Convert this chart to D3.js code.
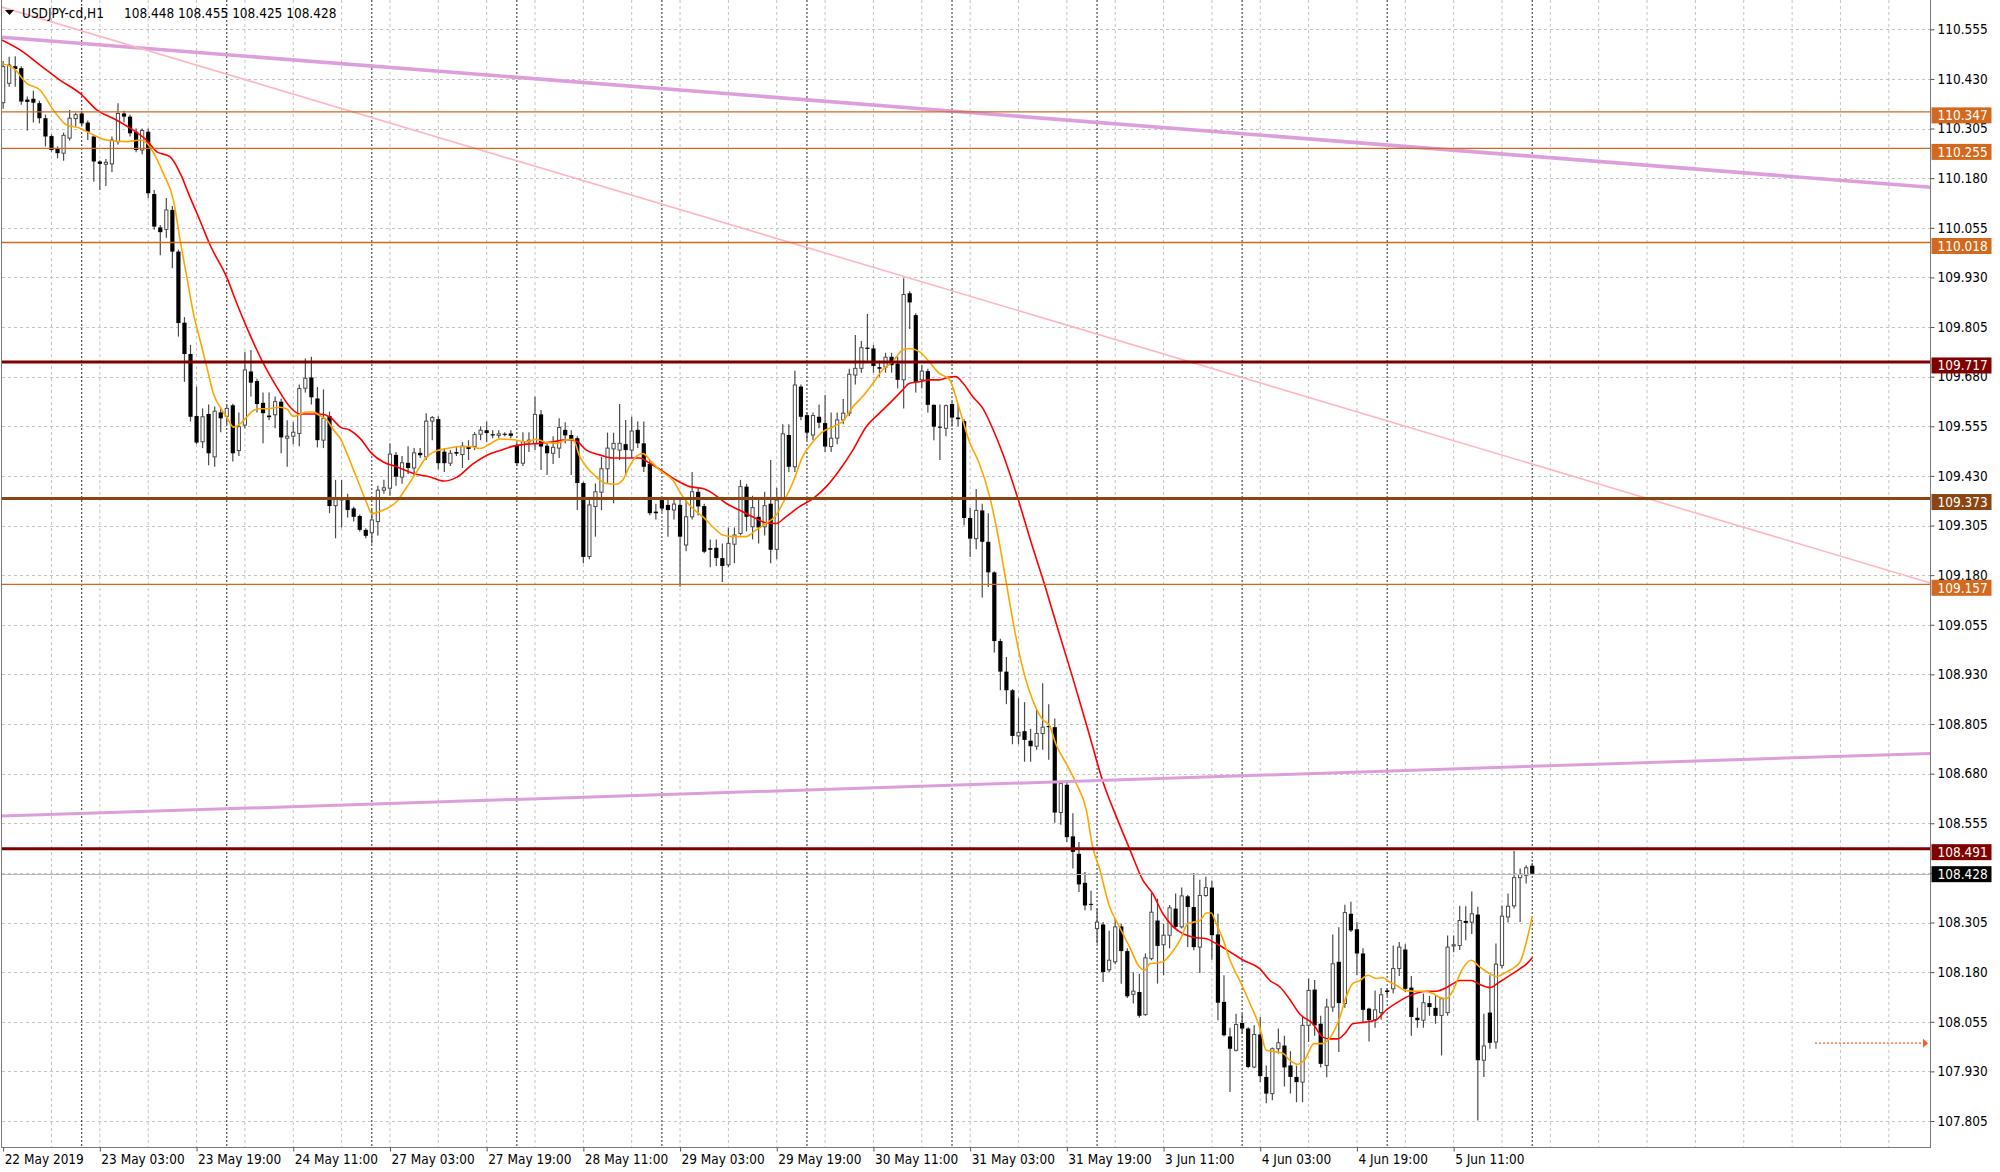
<!DOCTYPE html>
<html><head><meta charset="utf-8">
<script src="https://cdn.jsdelivr.net/npm/d3@7"></script>
<style>
html,body{margin:0;padding:0;background:#fff;}
svg{display:block;}
text{font-family:"DejaVu Sans Condensed","DejaVu Sans",sans-serif;}
</style></head><body>
<svg id="chart" width="2000" height="1172"></svg>
<script>
// ---------------- DATA ----------------
const symbolTitle = "USDJPY-cd,H1";
const titleValues = ["108.448", "108.455", "108.425", "108.428"];
const firstBar = -13; // bar index of first candle (0 = 23 May 00:00, hourly bars)
const opens = [110.370,110.419,110.462,110.457,110.378,110.380,110.369,110.331,110.286,110.254,110.243,110.281,110.330,
110.343,110.320,110.285,110.222,110.215,110.216,110.272,110.343,110.335,110.297,110.251,110.297,110.140,110.056,110.051,110.100,109.995,109.816,109.737,109.581,109.516,109.586,109.478,109.590,
109.580,109.608,109.494,109.558,109.693,109.669,109.614,109.582,109.584,109.617,109.525,109.530,109.537,109.651,109.678,109.625,109.520,109.581,109.355,109.370,109.369,109.348,109.329,109.294,
109.287,109.315,109.394,109.399,109.483,109.427,109.463,109.450,109.488,109.478,109.568,109.573,109.491,109.462,109.490,109.484,109.505,109.504,109.535,109.545,109.535,109.532,109.536,109.537,
109.508,109.462,109.516,109.512,109.585,109.506,109.487,109.500,109.546,109.533,109.525,109.412,109.227,109.353,109.389,109.448,109.498,109.495,109.510,109.495,109.546,109.512,109.460,109.340,
109.369,109.357,109.344,109.357,109.256,109.327,109.390,109.354,109.248,109.249,109.223,109.206,109.258,109.285,109.403,109.302,109.327,109.302,109.360,109.245,109.374,109.533,109.453,109.655,
109.583,109.533,109.579,109.563,109.504,109.525,109.571,109.588,109.684,109.701,109.753,109.751,109.704,109.704,109.730,109.713,109.672,109.890,109.835,109.672,109.694,109.609,109.554,109.550,
109.611,109.577,109.568,109.324,109.272,109.343,109.264,109.187,109.014,108.937,108.890,108.775,108.787,108.763,108.749,108.781,108.800,108.797,108.582,108.652,108.522,108.478,108.405,108.352,
108.290,108.300,108.186,108.206,108.295,108.233,108.124,108.130,108.073,108.214,108.310,108.249,108.273,108.340,108.294,108.371,108.344,108.243,108.373,108.393,108.275,108.105,108.018,107.983,
108.052,108.038,107.941,108.023,107.916,107.874,107.987,107.995,107.945,107.916,107.903,108.046,108.136,108.050,107.945,108.092,108.206,108.101,108.327,108.288,108.227,108.088,108.060,108.078,
108.134,108.138,108.189,108.237,108.141,108.065,108.059,108.102,108.090,108.071,108.078,108.246,108.247,108.309,108.306,108.325,107.958,108.078,108.004,108.197,108.319,108.347,108.418,108.424,
108.448];
const highs = [110.475,110.486,110.487,110.462,110.386,110.400,110.375,110.340,110.290,110.260,110.295,110.352,110.345,
110.350,110.325,110.290,110.225,110.228,110.285,110.369,110.350,110.340,110.305,110.305,110.305,110.150,110.062,110.130,110.110,110.000,109.830,109.760,109.655,109.600,109.610,109.605,109.603,
109.610,109.612,109.590,109.743,109.747,109.675,109.640,109.640,109.630,109.625,109.570,109.565,109.660,109.726,109.730,109.654,109.648,109.592,109.420,109.420,109.385,109.352,109.333,109.298,
109.345,109.405,109.420,109.512,109.490,109.480,109.505,109.500,109.500,109.588,109.581,109.580,109.500,109.495,109.505,109.515,109.520,109.540,109.555,109.567,109.545,109.545,109.540,109.545,
109.515,109.540,109.540,109.630,109.596,109.512,109.530,109.575,109.565,109.545,109.530,109.415,109.370,109.411,109.478,109.539,109.539,109.611,109.571,109.579,109.567,109.567,109.470,109.360,
109.375,109.374,109.374,109.370,109.370,109.440,109.400,109.360,109.270,109.270,109.260,109.300,109.300,109.420,109.410,109.380,109.370,109.390,109.470,109.400,109.560,109.560,109.695,109.660,
109.590,109.590,109.610,109.634,109.590,109.590,109.624,109.700,109.785,109.770,109.838,109.760,109.720,109.740,109.740,109.730,109.928,109.895,109.840,109.710,109.700,109.610,109.610,109.610,
109.616,109.611,109.573,109.350,109.397,109.360,109.336,109.190,109.020,108.974,108.893,108.870,108.860,108.793,108.840,108.908,108.855,108.819,108.662,108.662,108.580,108.508,108.432,108.385,
108.340,108.306,108.285,108.315,108.302,108.240,108.180,108.176,108.227,108.379,108.365,108.302,108.349,108.378,108.393,108.374,108.430,108.413,108.420,108.411,108.327,108.172,108.040,108.075,
108.075,108.041,108.046,108.067,107.945,107.990,108.038,108.020,107.981,107.945,108.067,108.164,108.160,108.070,108.113,108.275,108.293,108.350,108.357,108.306,108.240,108.090,108.134,108.140,
108.140,108.247,108.256,108.250,108.170,108.090,108.126,108.120,108.120,108.117,108.272,108.272,108.347,108.346,108.383,108.345,108.075,108.172,108.252,108.348,108.378,108.485,108.441,108.449,
108.455];
const lows = [110.355,110.410,110.410,110.365,110.300,110.320,110.318,110.260,110.247,110.230,110.224,110.275,110.310,
110.310,110.276,110.171,110.150,110.160,110.195,110.265,110.320,110.285,110.245,110.240,110.130,110.050,109.986,110.030,109.953,109.781,109.667,109.567,109.510,109.500,109.457,109.453,109.540,
109.560,109.466,109.480,109.550,109.630,109.590,109.512,109.570,109.550,109.487,109.453,109.510,109.505,109.640,109.610,109.502,109.500,109.336,109.273,109.300,109.325,109.315,109.290,109.273,
109.260,109.280,109.385,109.380,109.405,109.410,109.435,109.430,109.475,109.470,109.520,109.447,109.440,109.455,109.480,109.450,109.470,109.495,109.520,109.515,109.525,109.525,109.530,109.525,
109.455,109.455,109.490,109.495,109.445,109.432,109.460,109.475,109.512,109.432,109.344,109.210,109.220,109.277,109.344,109.410,109.361,109.470,109.430,109.475,109.500,109.440,109.331,109.320,
109.340,109.277,109.320,109.151,109.240,109.320,109.330,109.235,109.200,109.203,109.163,109.200,109.210,109.280,109.290,109.270,109.260,109.280,109.210,109.220,109.370,109.440,109.440,109.570,
109.520,109.520,109.550,109.490,109.490,109.510,109.560,109.580,109.660,109.690,109.720,109.690,109.680,109.690,109.690,109.650,109.600,109.800,109.640,109.650,109.590,109.520,109.470,109.530,
109.555,109.555,109.305,109.226,109.245,109.124,109.150,108.985,108.890,108.855,108.754,108.754,108.710,108.710,108.740,108.740,108.715,108.556,108.551,108.508,108.441,108.382,108.336,108.335,
108.252,108.155,108.180,108.200,108.151,108.115,108.101,108.065,108.070,108.210,108.151,108.172,108.240,108.290,108.290,108.243,108.235,108.178,108.370,108.211,108.059,108.018,107.878,107.980,
108.025,107.938,107.938,107.903,107.850,107.857,107.975,107.892,107.874,107.852,107.852,108.004,108.020,107.940,107.915,108.080,107.979,108.090,108.281,108.172,108.054,108.005,108.040,108.060,
108.120,108.126,108.170,108.130,108.020,108.040,108.040,108.070,108.050,107.970,108.070,108.230,108.236,108.260,108.276,107.806,107.916,107.987,107.987,108.190,108.305,108.340,108.306,108.403,
108.425];
const closes = [110.461,110.465,110.455,110.373,110.372,110.370,110.331,110.285,110.251,110.243,110.288,110.331,110.340,
110.318,110.297,110.222,110.216,110.220,110.276,110.343,110.335,110.293,110.251,110.300,110.142,110.058,110.044,110.100,109.995,109.815,109.737,109.579,109.514,109.579,109.487,109.593,109.575,
109.600,109.487,109.554,109.697,109.665,109.611,109.588,109.578,109.617,109.527,109.530,109.540,109.650,109.676,109.628,109.520,109.575,109.354,109.373,109.372,109.344,109.327,109.294,109.279,
109.319,109.394,109.400,109.485,109.428,109.463,109.450,109.488,109.482,109.568,109.577,109.462,109.462,109.487,109.486,109.505,109.498,109.534,109.545,109.538,109.532,109.536,109.535,109.531,
109.462,109.516,109.520,109.585,109.504,109.487,109.502,109.552,109.532,109.522,109.412,109.226,109.357,109.390,109.448,109.500,109.512,109.512,109.495,109.543,109.512,109.453,109.336,109.336,
109.348,109.344,109.359,109.277,109.327,109.390,109.353,109.239,109.244,109.223,109.203,109.260,109.281,109.403,109.327,109.350,109.300,109.355,109.244,109.369,109.536,109.453,109.659,109.579,
109.539,109.582,109.564,109.504,109.525,109.571,109.588,109.686,109.701,109.753,109.750,109.707,109.700,109.729,109.709,109.672,109.887,109.867,109.667,109.694,109.609,109.554,109.552,109.607,
109.577,109.573,109.324,109.272,109.343,109.264,109.187,109.014,108.937,108.890,108.775,108.784,108.765,108.749,108.781,108.797,108.797,108.582,108.655,108.520,108.483,108.401,108.348,108.350,
108.306,108.180,108.210,108.294,108.233,108.119,108.132,108.070,108.216,108.331,108.246,108.273,108.342,108.294,108.372,108.344,108.243,108.373,108.393,108.273,108.103,108.021,107.987,108.048,
108.038,107.941,108.023,107.918,107.874,107.987,108.002,107.940,107.916,107.903,108.046,108.134,108.046,107.949,108.092,108.201,108.102,108.330,108.285,108.227,108.085,108.059,108.085,108.123,
108.130,108.189,108.243,108.138,108.067,108.059,108.103,108.092,108.070,108.113,108.243,108.249,108.310,108.304,108.327,107.958,107.994,108.002,108.200,108.321,108.346,108.418,108.426,108.443,
108.428];

// Moving averages: [bar index, price]
const maFast = [[-13.5,110.469],[-11.3,110.457],[-9.1,110.419],[-6.9,110.402],[-4.7,110.352],[-2.5,110.314],[-0.3,110.306],[1.9,110.289],[4.1,110.276],[7.5,110.272],[9.7,110.276],[10.8,110.268],[11.9,110.243],[13.5,110.192],[15.2,110.123],[16.3,110.022],[17.4,109.930],[18.5,109.838],[19.6,109.771],[20.7,109.704],[21.8,109.637],[22.9,109.603],[24,109.578],[25.1,109.553],[26.2,109.561],[27.3,109.578],[28.4,109.595],[29.5,109.599],[30.6,109.599],[32.8,109.603],[33.9,109.599],[35,109.580],[37.2,109.591],[38.3,109.591],[39.4,109.582],[40.6,109.570],[41.7,109.545],[42.8,109.524],[43.9,109.486],[45,109.444],[46.1,109.402],[47.2,109.360],[48,109.335],[49.9,109.344],[52.1,109.365],[53.8,109.402],[55.4,109.440],[57.1,109.478],[58.2,109.490],[60.4,109.499],[62.6,109.504],[64.3,109.504],[65.9,109.499],[67.6,109.511],[69.2,109.523],[71.4,109.521],[73.6,109.516],[75.2,109.522],[76.9,109.514],[78.5,109.512],[80.2,109.521],[81.3,109.522],[82.4,109.479],[83.5,109.453],[85.1,109.428],[86.8,109.411],[88.4,109.409],[89.5,109.419],[90.6,109.453],[91.8,109.480],[92.9,109.486],[94,109.470],[95.6,109.445],[97.8,109.419],[99.5,109.377],[101.1,109.348],[102.8,109.327],[104.4,109.302],[106.1,109.281],[107.7,109.277],[109.9,109.277],[111.6,109.294],[113.2,109.310],[114.9,109.331],[116,109.361],[117.6,109.411],[119.3,109.479],[121,109.516],[122.6,109.541],[124.3,109.554],[125.9,109.567],[127.6,109.604],[129.2,109.630],[130.9,109.663],[132.5,109.697],[134.2,109.718],[135.8,109.747],[136.9,109.751],[138.6,109.743],[140.2,109.718],[141.9,109.688],[143.5,109.675],[145.2,109.600],[146.9,109.515],[148.5,109.462],[150.2,109.380],[151.8,109.264],[152.9,109.168],[154,109.071],[155.1,108.985],[156.8,108.888],[157.9,108.845],[159,108.816],[160.1,108.802],[161.2,108.754],[162.9,108.705],[164.5,108.657],[166.2,108.590],[167.3,108.493],[168.4,108.441],[170,108.348],[171.7,108.294],[173.4,108.243],[175,108.193],[175.9,108.185],[176.7,108.201],[177.8,108.203],[178.9,108.206],[180,108.222],[181.7,108.260],[183,108.302],[185,108.310],[186.1,108.329],[186.9,108.329],[187.7,108.302],[188.9,108.260],[190,108.210],[191.6,108.159],[193.3,108.101],[194.9,108.042],[196,107.983],[197.7,107.979],[198.8,107.975],[199.9,107.958],[201.2,107.948],[202.3,107.958],[203.9,108.000],[205.3,108.000],[206.4,108.012],[208.1,108.063],[209.2,108.117],[210.3,108.151],[211.4,108.158],[212.8,108.172],[214.2,108.164],[215.3,108.166],[216.4,108.155],[217.5,108.147],[218.9,108.134],[220.3,108.132],[221.9,108.132],[223.6,108.126],[224.7,108.116],[225.8,108.113],[226.9,108.134],[228.3,108.184],[229.9,108.210],[231.3,108.193],[233,108.176],[234.1,108.169],[235.7,108.180],[238,108.206],[239.1,108.260],[240,108.320]];
const maSlow = [[-13.5,110.530],[-10.2,110.503],[-6.9,110.465],[-3.6,110.427],[-0.3,110.394],[2.5,110.352],[5.8,110.326],[8.0,110.306],[10.7,110.276],[12.4,110.247],[14.6,110.234],[16.3,110.192],[17.9,110.133],[19.6,110.072],[21.2,110.013],[24,109.930],[25.7,109.863],[27.3,109.804],[30.1,109.712],[32.3,109.653],[34.5,109.603],[36.1,109.586],[38.3,109.586],[39.4,109.586],[41.1,109.578],[42.8,109.553],[44.4,109.545],[46.1,109.524],[48,109.486],[49.9,109.465],[52.1,109.453],[54.9,109.436],[57.7,109.427],[59.9,109.417],[62.1,109.427],[64.8,109.461],[67.6,109.486],[69.2,109.494],[71.4,109.505],[73.6,109.510],[75.8,109.512],[78,109.516],[80.2,109.521],[81.8,109.518],[83.5,109.495],[85.7,109.483],[87.9,109.475],[90.1,109.475],[92.3,109.475],[94,109.462],[96.2,109.441],[98.4,109.419],[100.6,109.403],[102.8,109.398],[104.4,109.386],[106.6,109.361],[108.8,109.344],[111,109.327],[113.2,109.312],[114.9,109.310],[116.5,109.327],[118.7,109.352],[121,109.373],[123.2,109.403],[125.4,109.445],[127.6,109.495],[129.8,109.554],[132,109.588],[134.2,109.621],[135.8,109.646],[136.9,109.663],[138.6,109.667],[140.2,109.672],[141.9,109.672],[143.5,109.679],[144.6,109.680],[145.8,109.664],[147.4,109.630],[149.1,109.600],[150.7,109.550],[152.4,109.486],[154.9,109.373],[157.1,109.262],[159.3,109.157],[161.5,109.045],[164,108.920],[166.5,108.790],[168.9,108.663],[171.2,108.571],[173.4,108.490],[175.6,108.411],[177.2,108.378],[178.9,108.327],[180.6,108.294],[182.2,108.277],[183.9,108.268],[186.1,108.264],[187.7,108.252],[190,108.231],[192.2,108.210],[194.9,108.189],[196.6,108.159],[198.3,108.142],[199.9,108.111],[201.5,108.075],[203.7,108.050],[205.3,108.017],[206.4,108.012],[207.8,108.012],[209.2,108.029],[210.3,108.050],[212.5,108.054],[214.2,108.060],[215.8,108.084],[217.5,108.102],[219.2,108.117],[220.8,108.127],[222.5,108.132],[224.1,108.132],[225.8,108.141],[226.9,108.151],[228,108.159],[229.9,108.159],[231.3,108.149],[233,108.141],[234.6,108.155],[236.3,108.172],[238,108.189],[239.1,108.201],[240,108.216]];

const yTicks = [107.805,107.930,108.055,108.180,108.305,108.430,108.555,108.680,108.805,108.930,109.055,109.180,109.305,109.430,109.555,109.680,109.805,109.930,110.055,110.180,110.305,110.430,110.555];
const xTickBars = [-13,3,19,35,51,67,83,99,115,131,147,163,179,195,211,227];
const xTickLabels = ["22 May 2019","23 May 03:00","23 May 19:00","24 May 11:00","27 May 03:00","27 May 19:00","28 May 11:00","29 May 03:00","29 May 19:00","30 May 11:00","31 May 03:00","31 May 19:00","3 Jun 11:00","4 Jun 03:00","4 Jun 19:00","5 Jun 11:00"];
const daySeparatorBars = [0,24,48,72,96,120,144,168,192,216,240];

const levelPrices = [110.347, 110.255, 110.018, 109.717, 109.373, 109.157, 108.491];
const levelKinds  = ["minor","minor","minor","major","mid","minor","major"];
const bidPrice = 108.428;
// trend lines: [barA, priceA, barB, priceB]
const trendUpperViolet = [-13.19, 110.535, 305.9, 110.157];
const trendPink        = [-13.19, 110.611, 305.9, 109.160];
const trendLowerViolet = [-13.19, 108.573, 305.9, 108.731];
const arrowLevel = [286.8, 305.5, 108.001];

// ---------------- STYLES ----------------
const levelStyle = {
  minor: {color:"#D2691E", width:1.3},
  major: {color:"#800000", width:3},
  mid:   {color:"#8B4513", width:3}
};
const W = 2000, H = 1172;
const plotL = 2, plotR = 1930.5, plotT = 0, plotB = 1147.5;
const FONT = 13.5;

// ---------------- SCALES ----------------
const x = d3.scaleLinear().domain([-13.19, 305.9]).range([plotL, plotR]);
const y = d3.scaleLinear().domain([107.805, 110.555]).range([1121.0, 29.3]);

const svg = d3.select("#chart");
svg.append("rect").attr("width", W).attr("height", H).attr("fill", "#fff");
svg.append("defs").append("clipPath").attr("id", "plotclip")
  .append("rect").attr("x", plotL).attr("y", plotT).attr("width", plotR - plotL).attr("height", plotB - plotT);

const plot = svg.append("g").attr("clip-path", "url(#plotclip)");

// grid
const grid = plot.append("g");
grid.selectAll("line.hg").data(yTicks).join("line")
  .attr("x1", plotL).attr("x2", plotR)
  .attr("y1", d => Math.round(y(d)) + 0.5).attr("y2", d => Math.round(y(d)) + 0.5)
  .attr("stroke", "#c4c4c4").attr("stroke-width", 1).attr("stroke-dasharray", "3,3");
const vGridBars = d3.range(-5, 306, 8);
grid.selectAll("line.vg").data(vGridBars).join("line")
  .attr("x1", d => x(d)).attr("x2", d => x(d))
  .attr("y1", plotT).attr("y2", plotB)
  .attr("stroke", "#c4c4c4").attr("stroke-width", 1).attr("stroke-dasharray", "3,3");
grid.selectAll("line.sep").data(daySeparatorBars).join("line")
  .attr("x1", d => x(d)).attr("x2", d => x(d))
  .attr("y1", plotT).attr("y2", plotB)
  .attr("stroke", "#2a2a2a").attr("stroke-width", 1).attr("stroke-dasharray", "2,2");

// candles
const bars = opens.map((o, k) => ({i: firstBar + k, o, h: highs[k], l: lows[k], c: closes[k]}));
const cg = plot.append("g");
cg.selectAll("line.wick").data(bars).join("line")
  .attr("x1", d => x(d.i)).attr("x2", d => x(d.i))
  .attr("y1", d => y(d.h)).attr("y2", d => y(d.l))
  .attr("stroke", "#4a4a4a").attr("stroke-width", 1.2);
cg.selectAll("rect.body").data(bars).join("rect")
  .attr("x", d => d.c >= d.o ? x(d.i) - 1.6 : x(d.i) - 2.1)
  .attr("width", d => d.c >= d.o ? 3.2 : 4.2)
  .attr("y", d => y(Math.max(d.o, d.c)))
  .attr("height", d => Math.max(1, Math.abs(y(d.o) - y(d.c))))
  .attr("fill", d => d.c >= d.o ? "#fff" : "#000")
  .attr("stroke", d => d.c >= d.o ? "#4a4a4a" : "none")
  .attr("stroke-width", 1);

// moving averages
const maLine = d3.line().x(d => x(d[0])).y(d => y(d[1])).curve(d3.curveMonotoneX);
plot.append("path").datum(maSlow).attr("d", maLine).attr("fill", "none").attr("stroke", "#ff0000").attr("stroke-width", 1.6);
plot.append("path").datum(maFast).attr("d", maLine).attr("fill", "none").attr("stroke", "#ffa500").attr("stroke-width", 1.6);

// objects
const obj = plot.append("g");
function trend(t, color, width) {
  obj.append("line").attr("x1", x(t[0])).attr("y1", y(t[1])).attr("x2", x(t[2])).attr("y2", y(t[3]))
    .attr("stroke", color).attr("stroke-width", width);
}
trend(trendUpperViolet, "#dc9fdc", 3.6);
trend(trendPink, "#ffb6c1", 1.6);
trend(trendLowerViolet, "#dc9fdc", 3);
obj.append("line").attr("x1", plotL).attr("x2", plotR)
  .attr("y1", Math.round(y(bidPrice)) + 0.5).attr("y2", Math.round(y(bidPrice)) + 0.5)
  .attr("stroke", "#b8b8b8").attr("stroke-width", 1);
levelPrices.forEach((p, k) => {
  const s = levelStyle[levelKinds[k]];
  obj.append("line").attr("x1", plotL).attr("x2", plotR).attr("y1", y(p)).attr("y2", y(p))
    .attr("stroke", s.color).attr("stroke-width", s.width);
});
// arrow
obj.append("line").attr("x1", x(arrowLevel[0])).attr("x2", x(arrowLevel[1]) - 4)
  .attr("y1", y(arrowLevel[2])).attr("y2", y(arrowLevel[2]))
  .attr("stroke", "#ff5a1e").attr("stroke-width", 1.2).attr("stroke-dasharray", "2,2");
{
  const ax = x(arrowLevel[1]), ay = y(arrowLevel[2]);
  obj.append("path").attr("d", `M${ax-5},${ay-4.5} L${ax},${ay} L${ax-5},${ay+4.5} Z`).attr("fill", "#ff5a1e");
}

// frame
svg.append("line").attr("x1", plotL - 0.5).attr("x2", plotL - 0.5).attr("y1", plotT).attr("y2", plotB).attr("stroke", "#7a7a7a");
svg.append("line").attr("x1", plotR).attr("x2", plotR).attr("y1", plotT).attr("y2", plotB).attr("stroke", "#7a7a7a");
svg.append("line").attr("x1", plotL - 1).attr("x2", plotR + 0.5).attr("y1", plotB).attr("y2", plotB).attr("stroke", "#7a7a7a");

// right axis
const yAxis = d3.axisRight(y).tickValues(yTicks).tickFormat(d3.format(".3f")).tickSize(4).tickPadding(3);
const yg = svg.append("g").attr("transform", `translate(${plotR},0)`).call(yAxis);
yg.select(".domain").remove();
yg.selectAll(".tick line").attr("stroke", "#555");
yg.selectAll("text").attr("font-size", FONT).attr("fill", "#000").attr("font-family", null);

// bottom axis
const xAxis = d3.axisBottom(x).tickValues(xTickBars).tickFormat((d, k) => xTickLabels[k]).tickSize(4).tickPadding(3);
const xg = svg.append("g").attr("transform", `translate(0,${plotB})`).call(xAxis);
xg.select(".domain").remove();
xg.selectAll(".tick line").attr("stroke", "#555");
xg.selectAll("text").attr("font-size", FONT).attr("fill", "#000").attr("text-anchor", "start").attr("dx", 1).attr("font-family", null);

// price labels (line labels sit slightly below their line, the bid label is centred)
function priceLabel(p, bg, top) {
  const g = svg.append("g");
  g.append("rect").attr("x", plotR + 1).attr("y", y(p) + top).attr("width", 60).attr("height", 16).attr("fill", bg);
  g.append("text").attr("x", plotR + 7).attr("y", y(p) + top + 8).attr("dy", "0.35em")
    .attr("font-size", FONT).attr("fill", "#fff").text(d3.format(".3f")(p));
}
levelPrices.forEach((p, k) => priceLabel(p, levelStyle[levelKinds[k]].color, -4.5));
priceLabel(bidPrice, "#000", -7.5);

// title
svg.append("path").attr("d", "M5,10 L14,10 L9.5,15 Z").attr("fill", "#000");
svg.append("text").attr("x", 22).attr("y", 18).attr("font-size", FONT).attr("fill", "#000").text(symbolTitle);
svg.append("text").attr("x", 124).attr("y", 18).attr("font-size", FONT).attr("fill", "#000").text(titleValues.join(" "));
</script>
</body></html>
